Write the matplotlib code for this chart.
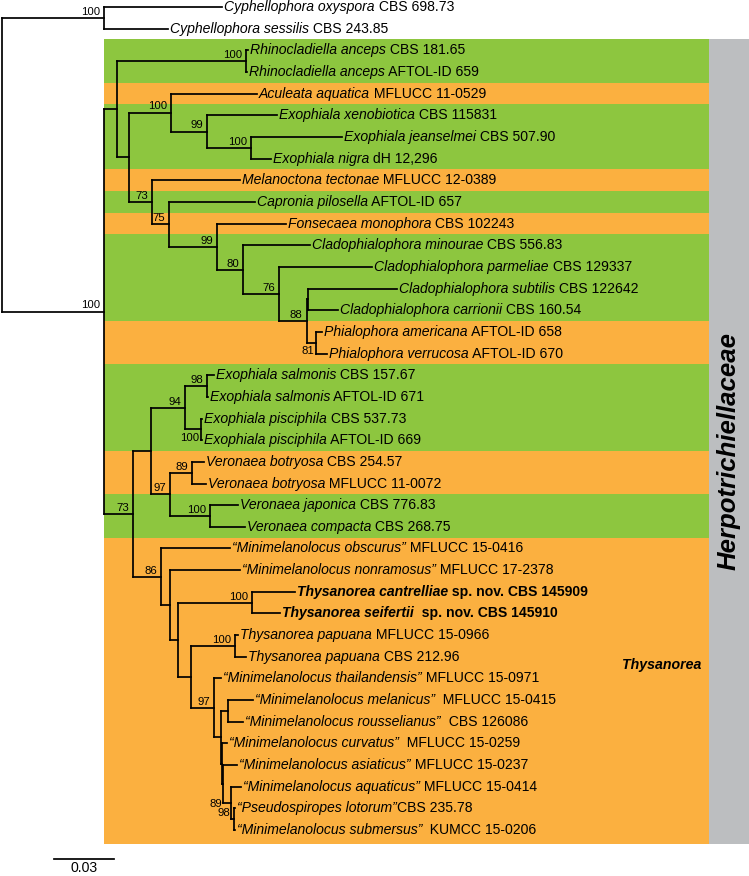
import matplotlib
matplotlib.use("Agg")
import matplotlib.pyplot as plt
from matplotlib.collections import LineCollection
from matplotlib.patches import Rectangle

plt.rcParams['font.family'] = ['Liberation Sans', 'DejaVu Sans']

# ----------- DATA -----------
# tip labels, top to bottom: italic name + plain strain part
TIP_NAMES = [
    "Cyphellophora oxyspora", "Cyphellophora sessilis",
    "Rhinocladiella anceps", "Rhinocladiella anceps",
    "Aculeata aquatica", "Exophiala xenobiotica", "Exophiala jeanselmei", "Exophiala nigra",
    "Melanoctona tectonae", "Capronia pilosella", "Fonsecaea monophora",
    "Cladophialophora minourae", "Cladophialophora parmeliae", "Cladophialophora subtilis",
    "Cladophialophora carrionii", "Phialophora americana", "Phialophora verrucosa",
    "Exophiala salmonis", "Exophiala salmonis", "Exophiala pisciphila", "Exophiala pisciphila",
    "Veronaea botryosa", "Veronaea botryosa", "Veronaea japonica", "Veronaea compacta",
    "\u201cMinimelanolocus obscurus\u201d", "\u201cMinimelanolocus nonramosus\u201d",
    "Thysanorea cantrelliae", "Thysanorea seifertii",
    "Thysanorea papuana", "Thysanorea papuana",
    "\u201cMinimelanolocus thailandensis\u201d", "\u201cMinimelanolocus melanicus\u201d",
    "\u201cMinimelanolocus rousselianus\u201d", "\u201cMinimelanolocus curvatus\u201d",
    "\u201cMinimelanolocus asiaticus\u201d", "\u201cMinimelanolocus aquaticus\u201d",
    "\u201cPseudospiropes lotorum\u201d", "\u201cMinimelanolocus submersus\u201d",
]
TIP_STRAINS = [
    " CBS 698.73", " CBS 243.85",
    " CBS 181.65", " AFTOL-ID 659",
    " MFLUCC 11-0529", " CBS 115831", " CBS 507.90", " dH 12,296",
    " MFLUCC 12-0389", " AFTOL-ID 657", " CBS 102243",
    " CBS 556.83", " CBS 129337", " CBS 122642",
    " CBS 160.54", " AFTOL-ID 658", " AFTOL-ID 670",
    " CBS 157.67", " AFTOL-ID 671", " CBS 537.73", " AFTOL-ID 669",
    " CBS 254.57", " MFLUCC 11-0072", " CBS 776.83", " CBS 268.75",
    " MFLUCC 15-0416", " MFLUCC 17-2378",
    " sp. nov. CBS 145909", "  sp. nov. CBS 145910",
    " MFLUCC 15-0966", " CBS 212.96",
    " MFLUCC 15-0971", "  MFLUCC 15-0415",
    "  CBS 126086", "  MFLUCC 15-0259",
    " MFLUCC 15-0237", " MFLUCC 15-0414",
    "CBS 235.78", "  KUMCC 15-0206",
]
NEW_SPECIES = [27, 28]  # drawn in bold

# tree edges (child, parent, branch length), children listed top to bottom
EDGES = [
    ("CYPH", "ROOT", 0.051), ("t0", "CYPH", 0.059), ("t1", "CYPH", 0.032),
    ("HERPO", "ROOT", 0.051),
    ("A", "HERPO", 0.0065),
    ("RHINO", "A", 0.0645), ("t2", "RHINO", 0.001), ("t3", "RHINO", 0.0005),
    ("A2", "A", 0.006),
    ("B1", "A2", 0.021), ("t4", "B1", 0.043),
    ("B2", "B1", 0.018), ("t5", "B2", 0.035),
    ("B3", "B2", 0.022), ("t6", "B3", 0.0455), ("t7", "B3", 0.010),
    ("A3", "A2", 0.0115), ("t8", "A3", 0.044),
    ("A4", "A3", 0.0085), ("t9", "A4", 0.043),
    ("A5", "A4", 0.024), ("t10", "A5", 0.0345),
    ("A6", "A5", 0.013), ("t11", "A6", 0.0335),
    ("A7", "A6", 0.018), ("t12", "A7", 0.0465),
    ("A8", "A7", 0.01375),
    ("X", "A8", 0.00075), ("t13", "X", 0.0445), ("t14", "X", 0.015),
    ("PHI", "A8", 0.00475), ("t15", "PHI", 0.003), ("t16", "PHI", 0.0055),
    ("B", "HERPO", 0.0145),
    ("C", "B", 0.009),
    ("D", "C", 0.017),
    ("SALM", "D", 0.011), ("t17", "SALM", 0.0035), ("t18", "SALM", 0.0005),
    ("PISC", "D", 0.008), ("t19", "PISC", 0.0005), ("t20", "PISC", 0.0005),
    ("E", "C", 0.0095),
    ("BOTR", "E", 0.011), ("t21", "BOTR", 0.006), ("t22", "BOTR", 0.007),
    ("JAP", "E", 0.020), ("t23", "JAP", 0.014), ("t24", "JAP", 0.0175),
    ("F", "B", 0.014), ("t25", "F", 0.0345),
    ("G", "F", 0.0045), ("t26", "G", 0.035),
    ("H", "G", 0.004),
    ("I", "H", 0.037), ("t27", "I", 0.0215), ("t28", "I", 0.014),
    ("J", "H", 0.0065),
    ("K", "J", 0.022), ("t29", "K", 0.0015), ("t30", "K", 0.0055),
    ("L", "J", 0.0115), ("t31", "L", 0.0035),
    ("M", "L", 0.0035),
    ("N", "M", 0.0035), ("t32", "N", 0.0125), ("t33", "N", 0.0075),
    ("P", "M", 0.0005), ("t34", "P", 0.0025),
    ("P2", "P", 0.0005), ("t35", "P2", 0.007),
    ("Q", "P2", 0.004), ("t36", "Q", 0.005),
    ("R", "Q", 0.0015), ("t37", "R", 0.0005), ("t38", "R", 0.0005),
]

SUPPORT = {"CYPH": 100, "HERPO": 100, "RHINO": 100, "B1": 100, "B2": 99, "B3": 100,
           "A3": 73, "A4": 75, "A5": 99, "A6": 80, "A7": 76, "A8": 88, "PHI": 81,
           "B": 73, "D": 94, "SALM": 98, "PISC": 100, "E": 97, "BOTR": 89, "JAP": 100,
           "F": 86, "I": 100, "K": 100, "L": 97, "Q": 89, "R": 98}
SUPPORT_BELOW = ["PHI", "PISC"]
SUPPORT_MID = ["Q"]

# background bands: (first row, last row, colour key)
BANDS = [(2, 3, "g"), (4, 4, "o"), (5, 7, "g"), (8, 8, "o"), (9, 9, "g"), (10, 10, "o"),
         (11, 14, "g"), (15, 16, "o"), (17, 20, "g"), (21, 22, "o"), (23, 24, "g"),
         (25, 38, "o")]
FAMILY = "Herpotrichiellaceae"
GENUS = "Thysanorea"
SCALE = 0.03

# ----------- STYLE -----------
GREEN = "#8DC63F"
ORANGE = "#FBB040"
GREY = "#BCBEC0"
LW = 1.25
FS_TIP = 10.1
FS_SUP = 8.2

# ----------- LAYOUT -----------
children, x, y = {}, {"ROOT": 0.0}, {}
for c, p, bl in EDGES:
    children.setdefault(p, []).append(c)
for c, p, bl in EDGES:  # parents are always listed before their children
    x[c] = x[p] + bl
for i in range(len(TIP_NAMES)):
    y[f"t{i}"] = i


def set_y(n):
    if n in y:
        return y[n]
    ys = [set_y(c) for c in children[n]]
    y[n] = (ys[0] + ys[-1]) / 2
    return y[n]


set_y("ROOT")

fig = plt.figure(figsize=(7.49, 8.76), dpi=100)
ax = fig.add_axes([0, 0, 1, 1])
ax.set_xlim(-0.001, 0.3735)
ax.set_ylim(40.12, -0.323)
ax.axis("off")

# bands + grey family bar
band_left, band_right = x["HERPO"], 0.3535
for r0, r1, col in BANDS:
    bottom = r1 + (0.65 if r1 == BANDS[-1][1] else 0.5)
    ax.add_patch(Rectangle((band_left, r0 - 0.5), band_right - band_left, bottom - (r0 - 0.5),
                           fc=GREEN if col == "g" else ORANGE, ec="none", zorder=0))
ax.add_patch(Rectangle((band_right, BANDS[0][0] - 0.5), 0.3735 - band_right,
                       BANDS[-1][1] + 0.65 - (BANDS[0][0] - 0.5), fc=GREY, ec="none", zorder=0))
ax.text((band_right + 0.3735) / 2, 20.5, FAMILY, rotation=90, ha="center", va="center",
        fontsize=18.5, fontweight="bold", fontstyle="italic")
ax.text(0.31, 30.4, GENUS, ha="left", va="center", fontsize=10.2, fontweight="bold",
        fontstyle="italic")

# branches
segs = []
for c, p, bl in EDGES:
    segs.append([(x[p], y[c]), (x[c], y[c])])
for n, ch in children.items():
    segs.append([(x[n], y[ch[0]]), (x[n], y[ch[-1]])])
ax.add_collection(LineCollection(segs, colors="black", linewidths=LW, capstyle="projecting",
                                 zorder=2))

# tip labels
for i, (name, strain) in enumerate(zip(TIP_NAMES, TIP_STRAINS)):
    w = "bold" if i in NEW_SPECIES else "normal"
    t1 = ax.annotate(name, xy=(x[f"t{i}"], i), xytext=(1.5, 0), textcoords="offset points",
                     ha="left", va="center", fontsize=FS_TIP, fontstyle="italic", fontweight=w)
    ax.annotate(strain, xy=(1, 0), xycoords=t1, xytext=(0, 0), textcoords="offset points",
                ha="left", va="bottom", fontsize=FS_TIP, fontweight=w)

# support values
for n, v in SUPPORT.items():
    if n in SUPPORT_BELOW:
        off, va = (-1.5, -2.5), "top"
    elif n in SUPPORT_MID:
        off, va = (-6, -1), "center"
    else:
        off, va = (-3, 0.8), "bottom"
    ax.annotate(str(v), xy=(x[n], y[n]), xytext=off, textcoords="offset points",
                ha="right", va=va, fontsize=FS_SUP)

# scale bar
ax.plot([0.026, 0.026 + SCALE], [39.33, 39.33], color="black", lw=LW)
ax.text(0.026 + SCALE / 2, 40.08, f"{SCALE:.2f}", ha="center", va="bottom", fontsize=FS_TIP)

fig.savefig("out.png", dpi=100)
